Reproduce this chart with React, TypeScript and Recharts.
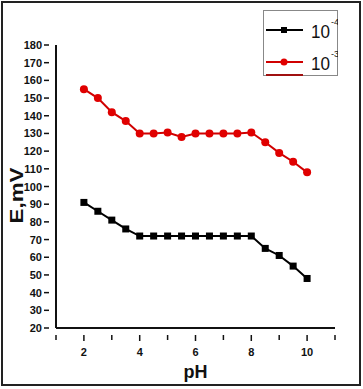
import React from "react";
import { LineChart, Line, XAxis, YAxis } from "recharts";

const phValues = [2, 2.5, 3, 3.5, 4, 4.5, 5, 5.5, 6, 6.5, 7, 7.5, 8, 8.5, 9, 9.5, 10];
const series1e4 = [91, 86, 81, 76, 72, 72, 72, 72, 72, 72, 72, 72, 72, 65, 61, 55, 48];
const series1e3 = [155, 150, 142, 137, 130, 130, 130.5, 128, 130, 130, 130, 130, 130.5, 125, 119, 114, 108];
const xTicks = [1, 2, 3, 4, 5, 6, 7, 8, 9, 10, 11];
const xLabelTicks = [2, 4, 6, 8, 10];
const yTicks = [20, 30, 40, 50, 60, 70, 80, 90, 100, 110, 120, 130, 140, 150, 160, 170, 180];
const legendLabels = [
  { base: "10", exp: "-4" },
  { base: "10", exp: "-3" },
];

const data = phValues.map((ph, i) => ({ ph, a: series1e4[i], b: series1e3[i] }));

const FONT = "'Liberation Sans', Arial, sans-serif";

const XTick = (props: any) => {
  const { x, y, payload } = props;
  const major = xLabelTicks.includes(payload.value);
  return (
    <g>
      <line x1={x} y1={y - 1} x2={x} y2={y + (major ? 5 : 4)} stroke="#111" strokeWidth={1.5} />
      {major && (
        <text x={x} y={y + 20} textAnchor="middle" fontFamily={FONT} fontWeight="bold" fontSize={11} fill="#111">
          {payload.value}
        </text>
      )}
    </g>
  );
};

const YTick = (props: any) => {
  const { x, y, payload } = props;
  return (
    <g>
      <line x1={x + 1} y1={y} x2={x - 4} y2={y} stroke="#111" strokeWidth={1.5} />
      <text x={x - 6} y={y + 4} textAnchor="end" fontFamily={FONT} fontWeight="bold" fontSize={11} fill="#111">
        {payload.value}
      </text>
    </g>
  );
};

const YLabel = (props: any) => {
  const { viewBox } = props;
  const cy = viewBox.y + viewBox.height / 2 + 9;
  const bx = 23;
  return (
    <text
      x={bx}
      y={cy}
      transform={`rotate(-90 ${bx} ${cy})`}
      textAnchor="middle"
      fontFamily={FONT}
      fontWeight="bold"
      fontSize={18}
      fill="#111"
      textLength={56}
      lengthAdjust="spacingAndGlyphs"
    >
      E,mV
    </text>
  );
};

const SquareDot = (props: any) => {
  const { cx, cy } = props;
  return <rect x={cx - 3.5} y={cy - 3.5} width={7} height={7} fill="#000" />;
};

const RoundDot = (props: any) => {
  const { cx, cy } = props;
  return <circle cx={cx} cy={cy} r={4} fill="#e00000" />;
};

const LegendBox = () => (
  <div
    style={{
      position: "absolute",
      left: 263,
      top: 10,
      width: 75,
      height: 66,
      boxSizing: "border-box",
      border: "1px solid #888",
      fontFamily: FONT,
      background: "#fff",
    }}
  >
    <svg width={75} height={66} style={{ position: "absolute", left: -1, top: -1 }}>
      <line x1={3} y1={20} x2={40} y2={20} stroke="#000" strokeWidth={2} />
      <rect x={18} y={17} width={6} height={6} fill="#000" />
      <line x1={3} y1={52} x2={40} y2={52} stroke="#d00000" strokeWidth={2} />
      <circle cx={21} cy={52} r={3.5} fill="#e00000" />
      <line x1={3} y1={65} x2={40} y2={65} stroke="#a01010" strokeWidth={2} />
      {legendLabels.map((l, i) => (
        <g key={i}>
          <text x={48} y={28 + i * 32} fontFamily={FONT} fontSize={19} fill="#111" textLength={19} lengthAdjust="spacingAndGlyphs">
            {l.base}
          </text>
          <text x={68} y={15 + i * 32} fontFamily={FONT} fontSize={9} fill="#111">
            {l.exp}
          </text>
        </g>
      ))}
    </svg>
  </div>
);

export default function App() {
  return (
    <div style={{ position: "absolute", left: 0, top: 0, width: 363, height: 389, background: "#fff" }}>
      <div
        style={{
          position: "absolute",
          left: 1,
          top: 1,
          width: 360,
          height: 385,
          boxSizing: "border-box",
          border: "2px solid #222",
        }}
      />
      <LineChart width={363} height={389} data={data} margin={{ top: 45, right: 28, bottom: 0, left: 0 }}>
        <XAxis
          dataKey="ph"
          type="number"
          domain={[1, 11]}
          ticks={xTicks}
          interval={0}
          tick={<XTick />}
          tickLine={false}
          axisLine={{ stroke: "#111", strokeWidth: 2 }}
          height={61}
          label={{ value: "pH", position: "insideBottom", offset: 11, fontFamily: FONT, fontWeight: "bold", fontSize: 18, fill: "#111" }}
        />
        <YAxis
          type="number"
          domain={[20, 180]}
          ticks={yTicks}
          interval={0}
          tick={<YTick />}
          tickLine={false}
          axisLine={{ stroke: "#111", strokeWidth: 2 }}
          width={56}
          label={<YLabel />}
        />
        <Line dataKey="a" name="10^-4" stroke="#000" strokeWidth={2} dot={<SquareDot />} isAnimationActive={false} />
        <Line dataKey="b" name="10^-3" stroke="#d00000" strokeWidth={2} dot={<RoundDot />} isAnimationActive={false} />
      </LineChart>
      <LegendBox />
    </div>
  );
}
